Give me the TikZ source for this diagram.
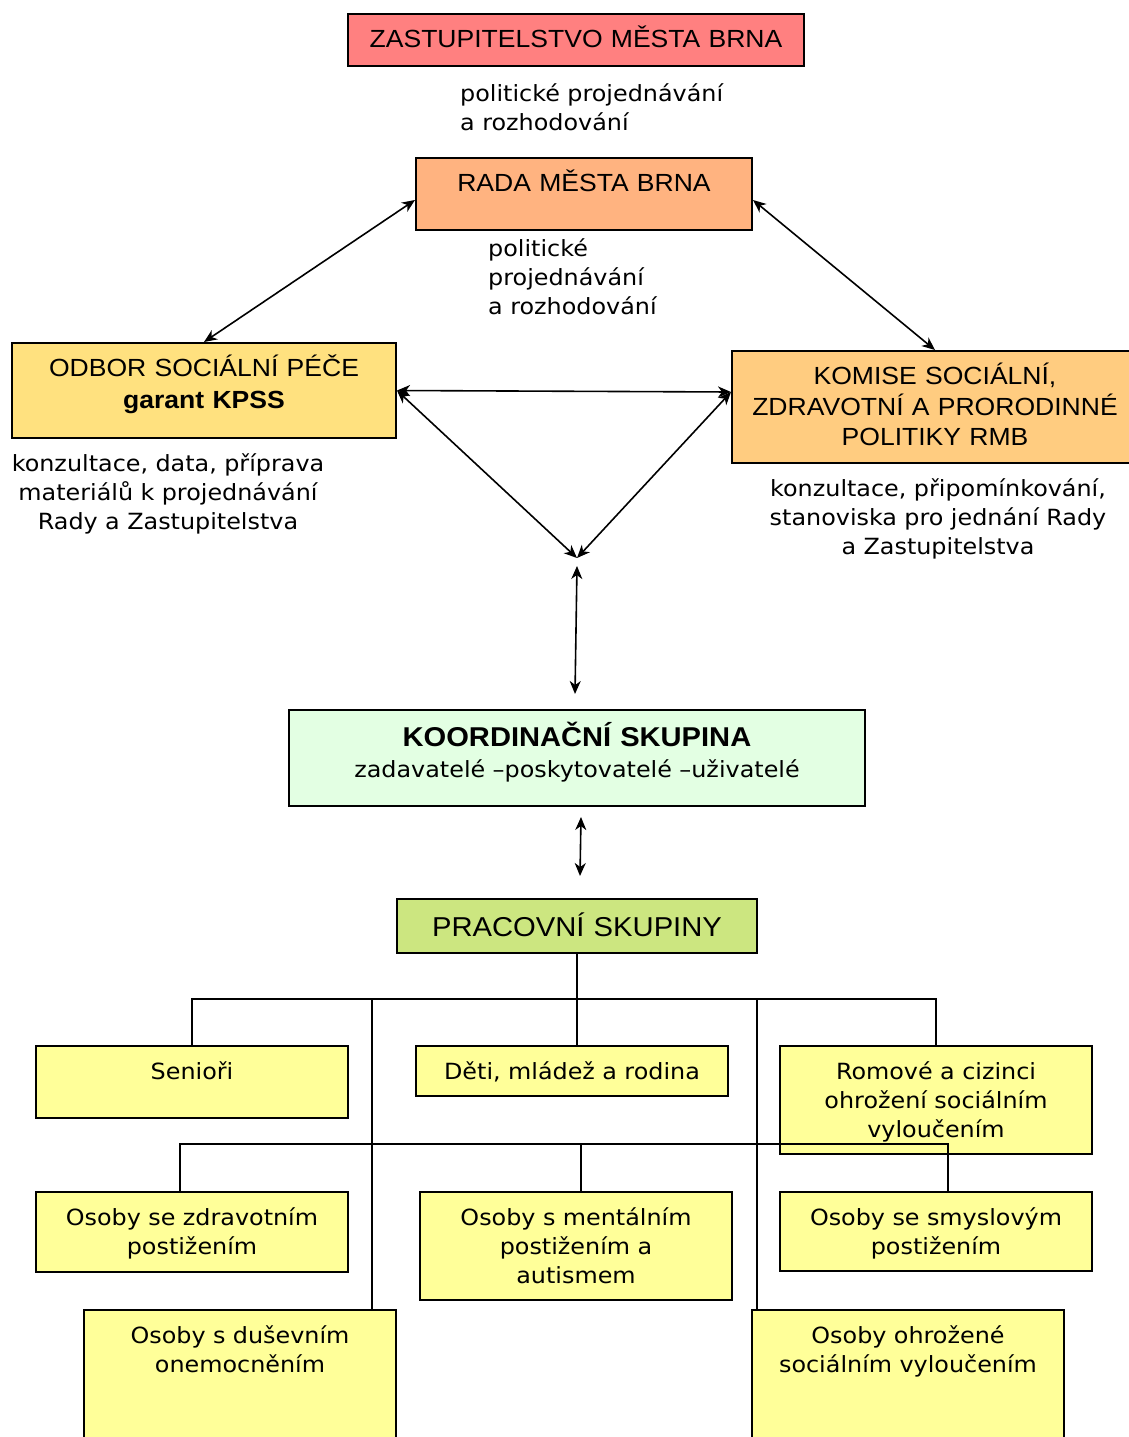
\documentclass[tikz,border=0pt]{standalone}
\usepackage{fontspec}
\usetikzlibrary{arrows.meta}
\newfontfamily\arialfont[FakeStretch=1.07]{Liberation Sans}
\newfontfamily\verdfont[FakeStretch=1.07]{DejaVu Sans}
\definecolor{zastcol}{HTML}{FF8080}
\definecolor{radacol}{HTML}{FFB380}
\definecolor{odborcol}{HTML}{FFE17F}
\definecolor{komisecol}{HTML}{FFCC80}
\definecolor{koordcol}{HTML}{E3FFE3}
\definecolor{praccol}{HTML}{CCE680}
\definecolor{grpcol}{HTML}{FFFF99}
\begin{document}
\begin{tikzpicture}[x=1pt,y=-1pt,>={Stealth[length=13pt,width=11pt,inset=4pt]},
  box/.style={draw,line width=2pt,inner sep=0pt},
  group box/.style={box,fill=grpcol,minimum width=312pt},
  title text/.style={font=\arialfont\fontsize{24.8}{30.5}\selectfont,text width=440pt,align=center,inner sep=0pt,anchor=base},
  small text/.style={font=\verdfont\fontsize{22.3}{28.8}\selectfont,text width=500pt,align=center,inner sep=0pt,anchor=base},
  side text/.style={small text,align=left,anchor=base west},
  link/.style={<->,line width=1.6pt},
  tree/.style={line width=1.8pt}]
  \useasboundingbox (0,0) rectangle (1129,1437);
  \clip (0,0) rectangle (1129,1437);

  \node[box,fill=zastcol,minimum width=456pt,minimum height=52pt] (zast) at (576,40) {};
  \node[box,fill=radacol,minimum width=336pt,minimum height=72pt] (rada) at (584,194) {};
  \node[box,fill=odborcol,minimum width=384pt,minimum height=95pt] (odbor) at (204,390.5) {};
  \node[box,fill=komisecol,minimum width=406pt,minimum height=112pt] (komise) at (935,407) {};
  \node[box,fill=koordcol,minimum width=576pt,minimum height=96pt] (koord) at (577,758) {};
  \node[box,fill=praccol,minimum width=360pt,minimum height=54pt] (prac) at (577,926) {};

  \node[title text] (zast-t) at ([yshift=-34.3pt]zast.north) {ZASTUPITELSTVO MĚSTA BRNA};
  \node[title text] (rada-t) at ([yshift=-34.7pt]rada.north) {RADA MĚSTA BRNA};
  \node[title text] (odbor-t) at ([yshift=-34.3pt]odbor.north) {ODBOR SOCIÁLNÍ PÉČE\\[1.5pt]\bfseries garant KPSS};
  \node[title text] (komise-t) at ([yshift=-34.7pt]komise.north) {KOMISE SOCIÁLNÍ,\\ZDRAVOTNÍ A PRORODINNÉ\\POLITIKY RMB};
  \node[title text,font=\arialfont\bfseries\fontsize{27.2}{31}\selectfont] (koord-t) at ([yshift=-37.3pt]koord.north) {KOORDINAČNÍ SKUPINA};
  \node[small text] (koord-s) at ([yshift=-68.3pt]koord.north) {zadavatelé –poskytovatelé –uživatelé};
  \node[title text,font=\arialfont\fontsize{27.3}{31}\selectfont] (prac-t) at ([yshift=-38.3pt]prac.north) {PRACOVNÍ SKUPINY};

  \node[side text] (rozh1) at (460,101.7) {politické projednávání\\a rozhodování};
  \node[side text] (rozh2) at (488,256.5) {politické\\projednávání\\a rozhodování};
  \node[small text] (konz1) at (168,471.7) {konzultace, data, příprava\\materiálů k projednávání\\Rady a Zastupitelstva};
  \node[small text] (konz2) at (938,496.7) {konzultace, připomínkování,\\stanoviska pro jednání Rady\\a Zastupitelstva};

  \coordinate (meet) at (577,558);
  \coordinate (up1) at (577,566);
  \coordinate (dn1) at (575,694);
  \coordinate (up2) at (581,817);
  \coordinate (dn2) at (580,876);
  \path[link]
    (odbor.north) edge ([yshift=-6pt]rada.west)
    ([yshift=-6pt]rada.east) edge (komise.north)
    (odbor.east) edge ([yshift=15pt]komise.west)
    (odbor.east) edge (meet)
    ([yshift=15pt]komise.west) edge (meet)
    (up1) edge (dn1)
    (up2) edge (dn2);

  \node[group box,minimum height=72pt] (sen) at (192,1082) {};
  \node[group box,minimum height=50pt] (deti) at (572,1071) {};
  \node[group box,minimum height=108pt] (rom) at (936,1100) {};
  \node[group box,minimum height=80pt] (zdr) at (192,1232) {};
  \node[group box,minimum height=108pt] (men) at (576,1246) {};
  \node[group box,minimum height=79pt] (smy) at (936,1231.5) {};
  \node[group box,minimum height=137pt] (dus) at (240,1378.5) {};
  \node[group box,minimum height=137pt] (ohr) at (908,1378.5) {};

  \node[small text] (sen-t) at ([yshift=-34.5pt]sen.north) {Senioři};
  \node[small text] (deti-t) at ([yshift=-34.5pt]deti.north) {Děti, mládež a rodina};
  \node[small text] (rom-t) at ([yshift=-34.5pt]rom.north) {Romové a cizinci\\ohrožení sociálním\\vyloučením};
  \node[small text] (zdr-t) at ([yshift=-34.5pt]zdr.north) {Osoby se zdravotním\\postižením};
  \node[small text] (men-t) at ([yshift=-34.5pt]men.north) {Osoby s mentálním\\postižením a\\autismem};
  \node[small text] (smy-t) at ([yshift=-34.5pt]smy.north) {Osoby se smyslovým\\postižením};
  \node[small text] (dus-t) at ([yshift=-34.5pt]dus.north) {Osoby s duševním\\onemocněním};
  \node[small text] (ohr-t) at ([yshift=-34.5pt]ohr.north) {Osoby ohrožené\\sociálním vyloučením};

  \coordinate (bus1) at (577,999);
  \coordinate (tapL) at (372,999);
  \coordinate (tapR) at (757,999);
  \coordinate (bus2L) at (180,1144);
  \coordinate (bus2M) at (581,1144);
  \coordinate (bus2R) at (948,1144);
  \draw[tree] (prac.south) -- (prac.south |- deti.north);
  \draw[tree] (sen.north) |- (bus1) -| (rom.north);
  \draw[tree] (tapL) -- (tapL |- dus.north);
  \draw[tree] (tapR) -- (tapR |- ohr.north);
  \draw[tree] (bus2L |- zdr.north) |- (bus2R) -- (bus2R |- smy.north);
  \draw[tree] (bus2M) -- (bus2M |- men.north);
\end{tikzpicture}
\end{document}
